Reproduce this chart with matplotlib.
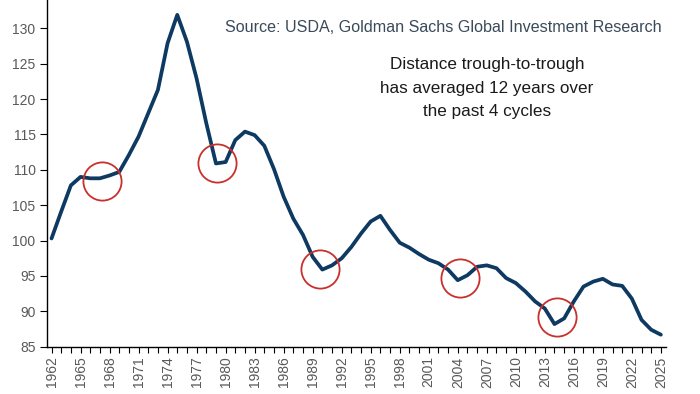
import numpy as np
import matplotlib
matplotlib.use("Agg")
import matplotlib.pyplot as plt

years = list(range(1962, 2026))
index_values = [
    100.3, 104.1, 107.8, 109.0, 108.8, 108.8, 109.2, 109.7, 112.1, 114.7,
    118.0, 121.3, 127.9, 131.9, 128.1, 122.9, 116.6, 110.9, 111.1, 114.2,
    115.4, 114.9, 113.4, 110.1, 106.2, 103.1, 100.8, 97.7, 95.9, 96.5,
    97.5, 99.1, 101.0, 102.7, 103.5, 101.5, 99.7, 99.0, 98.1, 97.3,
    96.8, 95.9, 94.4, 95.1, 96.3, 96.5, 96.1, 94.7, 94.0, 92.8,
    91.4, 90.4, 88.2, 89.0, 91.4, 93.5, 94.2, 94.6, 93.8, 93.6,
    91.8, 88.8, 87.4, 86.7,
]

# centres of the red trough circles
trough_years = [1967.2, 1979.1, 1989.8, 2004.2, 2014.3]
trough_values = [108.4, 111.0, 96.0, 94.7, 89.2]

y_ticks = [85, 90, 95, 100, 105, 110, 115, 120, 125, 130]
x_label_years = list(range(1962, 2026, 3))

source_text = "Source: USDA, Goldman Sachs Global Investment Research"
note_text = "Distance trough-to-trough\nhas averaged 12 years over\nthe past 4 cycles"

plt.rcParams["font.family"] = ["Liberation Sans", "DejaVu Sans"]

fig = plt.figure(figsize=(7, 3.94), dpi=100)
ax = fig.add_axes([0.0667, 0.12, 0.8843, 0.88])

ax.plot(years, index_values, color="#0E3A62", linewidth=2.7,
        solid_joinstyle="round", solid_capstyle="round", zorder=3)
ax.plot(trough_years, trough_values, linestyle="none", marker="o",
        markersize=27.5, markerfacecolor="none", markeredgecolor="#C9302C",
        markeredgewidth=1.3, zorder=4)

ax.set_xlim(1961.5, 2025.5)
ax.set_ylim(85, 134)

ax.set_yticks(y_ticks)
ax.set_xticks(years)
ax.set_xticklabels([str(y) if y in x_label_years else "" for y in years],
                   rotation=90)
ax.tick_params(axis="x", direction="out", length=4, width=0.8, color="black",
               labelsize=10, labelcolor="#595959", pad=3)
ax.tick_params(axis="y", direction="out", length=5, width=0.8, color="black",
               labelsize=10, labelcolor="#595959", pad=3)

for side in ["top", "right"]:
    ax.spines[side].set_visible(False)
for side in ["left", "bottom"]:
    ax.spines[side].set_linewidth(1.0)
    ax.spines[side].set_color("black")

fig.text(662 / 700, 1 - 28 / 394, source_text, ha="right", va="center",
         fontsize=11.6, color="#3A4A5A")
fig.text(487 / 700, 1 - 88 / 394, note_text, ha="center", va="center",
         fontsize=12.3, color="#1A1A1A", linespacing=1.68)

fig.savefig("out.png", dpi=100)
